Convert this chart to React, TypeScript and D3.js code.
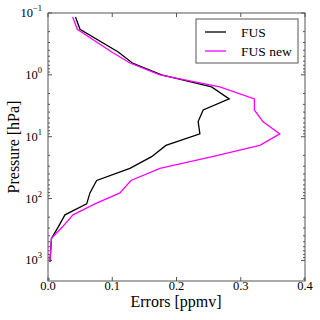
import React from "react";
import * as d3 from "d3";

const pressure = [0.116, 0.183, 0.427, 0.643, 1.0, 1.57, 2.45, 3.69, 5.7, 9.0, 13.8, 21, 32.5, 51, 81, 122, 183, 286, 440, 1055];
const fus = [0.0428, 0.0498, 0.1093, 0.1314, 0.1768, 0.2546, 0.282, 0.2415, 0.2337, 0.2364, 0.1835, 0.1613, 0.1275, 0.0757, 0.0653, 0.0602, 0.0264, 0.016, 0.0054, 0.0031];
const fusNew = [0.0384, 0.0456, 0.0992, 0.1275, 0.1742, 0.2675, 0.3212, 0.3212, 0.3344, 0.3608, 0.3297, 0.2557, 0.1742, 0.1291, 0.112, 0.0731, 0.0389, 0.0226, 0.0054, 0.0031];
const xTicks = [0.0, 0.1, 0.2, 0.3, 0.4];
const yExps = [-1, 0, 1, 2, 3];
const seriesNames = ["FUS", "FUS new"];
const seriesColors = ["#000000", "#ff00ff"];

export default function App() {
  const L = 48, R = 305, T = 13, B = 281;
  const x = d3.scaleLinear().domain([0, 0.4]).range([L, R]);
  const y = d3.scaleLog().domain([0.1, 2150]).range([T, B]);
  const line = d3.line<number>().x((d) => x(d)).y((_, i) => y(pressure[i]));
  const minor: number[] = [];
  for (let e = -1; e <= 3; e++) {
    for (let m = 2; m <= 9; m++) {
      const v = m * Math.pow(10, e);
      if (v <= 2150) minor.push(v);
    }
  }
  const font = "'Liberation Serif', 'DejaVu Serif', serif";
  const spine = "#555";
  return (
    <svg width={320} height={320} style={{ position: "absolute", left: 0, top: 0, background: "#fff" }}>
      <rect x={0} y={0} width={320} height={320} fill="#fff" />
      <path d={line(fus) || ""} fill="none" stroke={seriesColors[0]} strokeWidth={1.3} />
      <path d={line(fusNew) || ""} fill="none" stroke={seriesColors[1]} strokeWidth={1.3} />
      <rect x={L} y={T} width={R - L} height={B - T} fill="none" stroke={spine} strokeWidth={1} />
      {xTicks.map((t) => (
        <g key={"x" + t}>
          <line x1={x(t)} x2={x(t)} y1={B} y2={B - 4} stroke={spine} />
          <line x1={x(t)} x2={x(t)} y1={T} y2={T + 4} stroke={spine} />
          <text x={x(t)} y={290} textAnchor="middle" fontFamily={font} fontSize={12.5} fill="#000">
            {t.toFixed(1)}
          </text>
        </g>
      ))}
      {yExps.map((e) => {
        const yy = y(Math.pow(10, e));
        return (
          <g key={"y" + e}>
            <line x1={L} x2={L + 4} y1={yy} y2={yy} stroke={spine} />
            <line x1={R} x2={R - 4} y1={yy} y2={yy} stroke={spine} />
            <text x={42} y={yy + 4} textAnchor="end" fontFamily={font} fontSize={12.5} fill="#000">
              10
              <tspan dy={-6} fontSize={8.5}>{e < 0 ? "\u2212" + Math.abs(e) : String(e)}</tspan>
            </text>
          </g>
        );
      })}
      {minor.map((v, i) => (
        <g key={"m" + i}>
          <line x1={L} x2={L + 2} y1={y(v)} y2={y(v)} stroke={spine} />
          <line x1={R} x2={R - 2} y1={y(v)} y2={y(v)} stroke={spine} />
        </g>
      ))}
      <text x={176} y={307} textAnchor="middle" fontFamily={font} fontSize={16} fill="#000">
        Errors [ppmv]
      </text>
      <text transform={`translate(19,${(T + B) / 2}) rotate(-90)`} textAnchor="middle" fontFamily={font} fontSize={16} fill="#000">
        Pressure [hPa]
      </text>
      <rect x={196} y={19} width={102} height={44} fill="#fff" stroke={spine} strokeWidth={1} />
      {seriesNames.map((n, i) => (
        <g key={n}>
          <line x1={205} x2={226} y1={32 + i * 19} y2={32 + i * 19} stroke={seriesColors[i]} strokeWidth={1.3} />
          <text x={241} y={36.5 + i * 19} fontFamily={font} fontSize={13.5} fill="#000">
            {n}
          </text>
        </g>
      ))}
    </svg>
  );
}
